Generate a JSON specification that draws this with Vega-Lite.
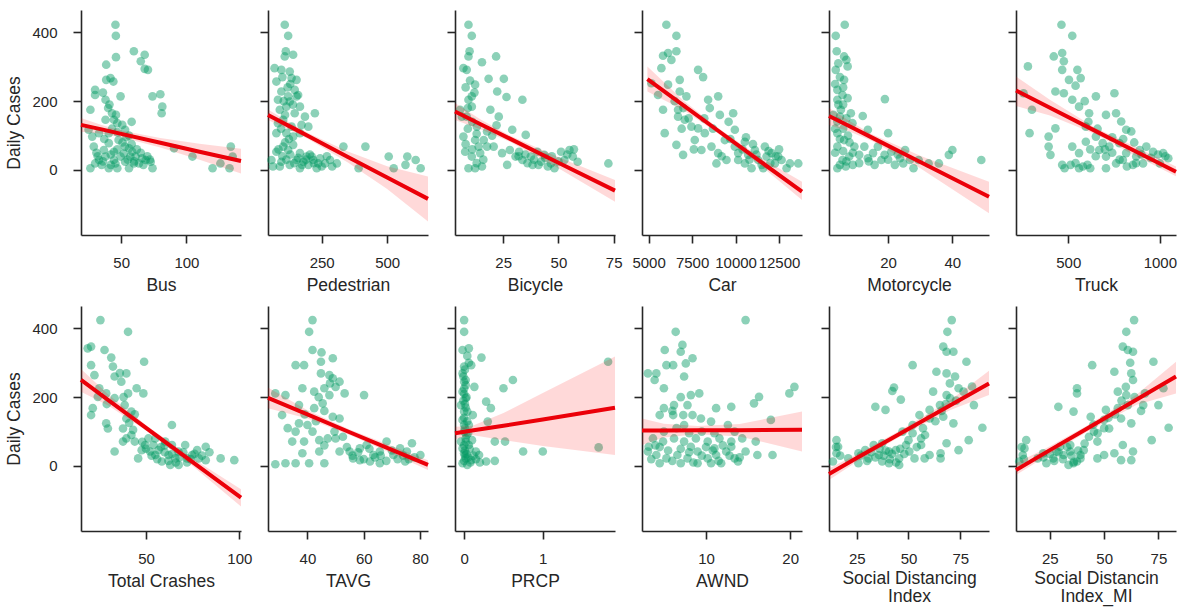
{
"$schema":"https://vega.github.io/schema/vega-lite/v6.json",
"padding":{"left":5,"top":10,"right":5,"bottom":2},
"background":"white",
"datasets":{
"d0":[{"x":45.6,"y":422},{"x":45.9,"y":390},{"x":46,"y":328},{"x":59.7,"y":345},{"x":68,"y":335},{"x":65,"y":316},{"x":68,"y":294},{"x":70.5,"y":291},{"x":38.5,"y":306},{"x":41.8,"y":267},{"x":38.5,"y":262},{"x":44,"y":257},{"x":30,"y":233},{"x":30,"y":218},{"x":80,"y":220},{"x":74,"y":214},{"x":49.5,"y":214},{"x":81.5,"y":184},{"x":81,"y":165},{"x":26.4,"y":175},{"x":38,"y":204},{"x":40,"y":180},{"x":43,"y":165},{"x":38,"y":146},{"x":44.4,"y":146},{"x":47,"y":136},{"x":50.8,"y":131},{"x":53,"y":117},{"x":25,"y":117},{"x":40.5,"y":107},{"x":33,"y":107},{"x":27.8,"y":97},{"x":40.5,"y":78},{"x":48,"y":87},{"x":52.8,"y":68},{"x":56,"y":63},{"x":29,"y":68},{"x":36.7,"y":58},{"x":44.4,"y":53},{"x":58.5,"y":53},{"x":90.5,"y":63},{"x":104.6,"y":39},{"x":134,"y":68},{"x":135.4,"y":39},{"x":133,"y":5},{"x":120,"y":5},{"x":126,"y":19},{"x":33,"y":29},{"x":30,"y":19},{"x":35,"y":15},{"x":40.5,"y":5},{"x":45.6,"y":19},{"x":49.5,"y":39},{"x":53,"y":24},{"x":57,"y":39},{"x":56,"y":5},{"x":61,"y":39},{"x":63.6,"y":19},{"x":66,"y":34},{"x":68.7,"y":29},{"x":72.6,"y":24},{"x":74,"y":5},{"x":59.7,"y":19},{"x":44.4,"y":29},{"x":38,"y":39},{"x":26.4,"y":5},{"x":47,"y":5},{"x":32,"y":40},{"x":36,"y":25},{"x":42,"y":45},{"x":47,"y":60},{"x":51,"y":80},{"x":54,"y":95},{"x":58,"y":75},{"x":62,"y":60},{"x":65,"y":50},{"x":70,"y":40},{"x":72,"y":30},{"x":52,"y":48},{"x":55,"y":30},{"x":60,"y":25},{"x":67,"y":15},{"x":42,"y":15},{"x":37,"y":90},{"x":43,"y":120},{"x":46,"y":160},{"x":41,"y":190},{"x":36,"y":225},{"x":47,"y":110},{"x":56,"y":100},{"x":58,"y":140},{"x":31,"y":50}],
"d1":[{"x":109,"y":422},{"x":122,"y":390},{"x":113,"y":345},{"x":141,"y":335},{"x":109,"y":330},{"x":96,"y":291},{"x":128,"y":286},{"x":70,"y":296},{"x":77,"y":257},{"x":135,"y":267},{"x":154,"y":262},{"x":147,"y":233},{"x":96,"y":228},{"x":122,"y":214},{"x":154,"y":214},{"x":83,"y":204},{"x":128,"y":199},{"x":160,"y":218},{"x":90,"y":175},{"x":115,"y":184},{"x":147,"y":165},{"x":186,"y":155},{"x":224,"y":165},{"x":167,"y":184},{"x":83,"y":136},{"x":103,"y":146},{"x":135,"y":126},{"x":173,"y":131},{"x":199,"y":126},{"x":77,"y":107},{"x":115,"y":107},{"x":141,"y":97},{"x":167,"y":107},{"x":77,"y":53},{"x":103,"y":68},{"x":122,"y":58},{"x":141,"y":73},{"x":167,"y":49},{"x":192,"y":39},{"x":218,"y":29},{"x":244,"y":34},{"x":263,"y":19},{"x":282,"y":29},{"x":308,"y":19},{"x":333,"y":68},{"x":417,"y":68},{"x":391,"y":5},{"x":506,"y":39},{"x":525,"y":5},{"x":570,"y":15},{"x":609,"y":29},{"x":628,"y":5},{"x":577,"y":39},{"x":90,"y":10},{"x":128,"y":15},{"x":167,"y":5},{"x":199,"y":15},{"x":231,"y":5},{"x":180,"y":24},{"x":212,"y":39},{"x":237,"y":19},{"x":64,"y":10},{"x":58,"y":29},{"x":96,"y":24},{"x":154,"y":29},{"x":100,"y":40},{"x":115,"y":30},{"x":130,"y":45},{"x":145,"y":20},{"x":160,"y":35},{"x":175,"y":15},{"x":190,"y":30},{"x":205,"y":45},{"x":220,"y":20},{"x":250,"y":10},{"x":110,"y":80},{"x":125,"y":90},{"x":95,"y":120},{"x":110,"y":160},{"x":120,"y":240},{"x":100,"y":270},{"x":130,"y":250},{"x":85,"y":60},{"x":270,"y":40},{"x":290,"y":10},{"x":140,"y":190},{"x":105,"y":200}],
"d2":[{"x":9.3,"y":422},{"x":10.8,"y":390},{"x":9.8,"y":345},{"x":9.3,"y":330},{"x":7,"y":296},{"x":8.5,"y":291},{"x":15.4,"y":313},{"x":21.8,"y":330},{"x":18.4,"y":265},{"x":25.3,"y":265},{"x":22.3,"y":228},{"x":26.5,"y":212},{"x":33.7,"y":204},{"x":12.3,"y":248},{"x":10.8,"y":214},{"x":9.3,"y":204},{"x":10.8,"y":184},{"x":6.3,"y":155},{"x":8.5,"y":155},{"x":19.2,"y":175},{"x":23,"y":155},{"x":13.1,"y":126},{"x":17.7,"y":112},{"x":29.1,"y":117},{"x":35.2,"y":102},{"x":12.3,"y":87},{"x":13.9,"y":68},{"x":7.8,"y":53},{"x":14.6,"y":49},{"x":20.7,"y":68},{"x":24.5,"y":49},{"x":26.8,"y":15},{"x":9.3,"y":5},{"x":12.3,"y":5},{"x":15.4,"y":10},{"x":30.6,"y":39},{"x":33.7,"y":29},{"x":37.5,"y":39},{"x":40.5,"y":53},{"x":43.6,"y":44},{"x":46.6,"y":19},{"x":48.2,"y":5},{"x":42.1,"y":24},{"x":45.2,"y":10},{"x":51.2,"y":53},{"x":55,"y":58},{"x":56.5,"y":39},{"x":58.7,"y":24},{"x":52.7,"y":29},{"x":72.6,"y":19},{"x":16.2,"y":87},{"x":10.8,"y":39},{"x":7,"y":97},{"x":5.5,"y":175},{"x":17.7,"y":68},{"x":32.2,"y":53},{"x":38.3,"y":15},{"x":8,"y":240},{"x":10,"y":260},{"x":12,"y":225},{"x":9,"y":180},{"x":11,"y":140},{"x":13,"y":105},{"x":9,"y":120},{"x":8,"y":75},{"x":11,"y":60},{"x":13,"y":20},{"x":16,"y":30},{"x":35,"y":45},{"x":39,"y":30},{"x":41,"y":15},{"x":44,"y":35},{"x":47,"y":40},{"x":50,"y":25},{"x":54,"y":45},{"x":57,"y":60},{"x":36,"y":20},{"x":32,"y":40},{"x":28,"y":58},{"x":20,"y":100},{"x":22,"y":130}],
"d3":[{"x":6022,"y":422},{"x":6598,"y":390},{"x":5830,"y":332},{"x":6118,"y":340},{"x":6598,"y":345},{"x":5734,"y":296},{"x":6310,"y":320},{"x":5158,"y":252},{"x":5542,"y":218},{"x":6118,"y":248},{"x":6790,"y":262},{"x":7846,"y":291},{"x":8134,"y":270},{"x":6790,"y":228},{"x":7174,"y":214},{"x":5830,"y":175},{"x":6694,"y":175},{"x":6694,"y":155},{"x":7078,"y":146},{"x":7462,"y":126},{"x":8422,"y":204},{"x":9000,"y":214},{"x":8518,"y":180},{"x":9096,"y":160},{"x":9862,"y":165},{"x":5926,"y":107},{"x":6598,"y":73},{"x":6982,"y":44},{"x":7846,"y":121},{"x":8230,"y":107},{"x":8038,"y":58},{"x":8614,"y":68},{"x":8998,"y":49},{"x":8900,"y":19},{"x":9478,"y":29},{"x":9958,"y":117},{"x":9958,"y":68},{"x":10150,"y":49},{"x":10534,"y":82},{"x":10726,"y":44},{"x":11110,"y":58},{"x":11302,"y":29},{"x":11686,"y":68},{"x":11782,"y":39},{"x":12070,"y":49},{"x":12262,"y":19},{"x":12646,"y":29},{"x":13126,"y":19},{"x":13606,"y":19},{"x":10918,"y":5},{"x":11590,"y":5},{"x":10534,"y":19},{"x":9382,"y":87},{"x":7654,"y":87},{"x":10150,"y":29},{"x":12454,"y":39},{"x":12934,"y":5},{"x":10400,"y":60},{"x":10800,"y":30},{"x":11200,"y":45},{"x":11500,"y":15},{"x":11900,"y":55},{"x":12300,"y":40},{"x":12500,"y":60},{"x":11000,"y":75},{"x":10600,"y":95},{"x":9700,"y":90},{"x":9200,"y":40},{"x":8700,"y":120},{"x":8200,"y":150},{"x":7300,"y":150},{"x":7000,"y":180},{"x":6500,"y":200},{"x":6900,"y":120},{"x":7600,"y":60},{"x":9600,"y":140},{"x":12000,"y":20}],
"d4":[{"x":6.5,"y":422},{"x":3.7,"y":390},{"x":4,"y":345},{"x":6.3,"y":330},{"x":7.4,"y":301},{"x":3.7,"y":291},{"x":6.3,"y":262},{"x":4.2,"y":233},{"x":5.8,"y":218},{"x":7.4,"y":209},{"x":4.2,"y":204},{"x":19,"y":206},{"x":12.1,"y":157},{"x":5.3,"y":175},{"x":8.4,"y":165},{"x":4.2,"y":141},{"x":8.9,"y":136},{"x":13.7,"y":117},{"x":20,"y":107},{"x":4.2,"y":107},{"x":6.3,"y":87},{"x":9.5,"y":68},{"x":4.2,"y":68},{"x":16.8,"y":68},{"x":18.9,"y":44},{"x":21,"y":53},{"x":25.3,"y":58},{"x":23.7,"y":34},{"x":26.8,"y":29},{"x":29.5,"y":29},{"x":32.6,"y":19},{"x":35.8,"y":19},{"x":38.9,"y":44},{"x":40,"y":58},{"x":49,"y":29},{"x":4.2,"y":5},{"x":6.8,"y":10},{"x":13.7,"y":34},{"x":15.8,"y":15},{"x":17.9,"y":29},{"x":22.1,"y":15},{"x":27.9,"y":5},{"x":11,"y":44},{"x":12.6,"y":68},{"x":7.9,"y":39},{"x":5.8,"y":29},{"x":15.3,"y":49},{"x":24.7,"y":19},{"x":3.5,"y":250},{"x":5,"y":270},{"x":6,"y":240},{"x":4.5,"y":190},{"x":6,"y":190},{"x":5,"y":155},{"x":7,"y":150},{"x":3.5,"y":120},{"x":6,"y":120},{"x":7.5,"y":100},{"x":5,"y":90},{"x":3.5,"y":50},{"x":6,"y":55},{"x":8,"y":80},{"x":5,"y":15},{"x":7,"y":25},{"x":9,"y":15},{"x":11,"y":20},{"x":14,"y":25},{"x":20,"y":30},{"x":23,"y":45},{"x":7,"y":320},{"x":4.5,"y":310},{"x":9,"y":50},{"x":3,"y":160}],
"d5":[{"x":463,"y":422},{"x":522,"y":390},{"x":421,"y":330},{"x":467,"y":340},{"x":476,"y":316},{"x":467,"y":291},{"x":550,"y":291},{"x":568,"y":267},{"x":504,"y":262},{"x":280,"y":301},{"x":256,"y":223},{"x":302,"y":175},{"x":289,"y":107},{"x":430,"y":228},{"x":476,"y":223},{"x":522,"y":204},{"x":651,"y":214},{"x":752,"y":223},{"x":430,"y":121},{"x":393,"y":97},{"x":393,"y":68},{"x":403,"y":44},{"x":559,"y":184},{"x":614,"y":165},{"x":706,"y":160},{"x":761,"y":165},{"x":789,"y":141},{"x":816,"y":117},{"x":844,"y":112},{"x":596,"y":126},{"x":651,"y":97},{"x":688,"y":78},{"x":522,"y":68},{"x":559,"y":49},{"x":596,"y":82},{"x":467,"y":15},{"x":513,"y":15},{"x":559,"y":5},{"x":605,"y":15},{"x":669,"y":58},{"x":724,"y":68},{"x":706,"y":39},{"x":761,"y":19},{"x":798,"y":29},{"x":853,"y":15},{"x":871,"y":39},{"x":890,"y":58},{"x":926,"y":68},{"x":963,"y":53},{"x":1018,"y":49},{"x":1046,"y":34},{"x":1000,"y":19},{"x":779,"y":78},{"x":816,"y":49},{"x":706,"y":5},{"x":908,"y":19},{"x":480,"y":5},{"x":540,"y":20},{"x":580,"y":10},{"x":620,"y":5},{"x":650,"y":40},{"x":700,"y":60},{"x":740,"y":50},{"x":780,"y":30},{"x":820,"y":10},{"x":870,"y":20},{"x":900,"y":45},{"x":950,"y":35},{"x":990,"y":45},{"x":1030,"y":40},{"x":740,"y":95},{"x":800,"y":90},{"x":860,"y":80},{"x":610,"y":140},{"x":660,"y":120},{"x":540,"y":245},{"x":590,"y":200},{"x":620,"y":60}],
"d6":[{"x":25.6,"y":424},{"x":40.4,"y":390},{"x":18.8,"y":342},{"x":20.6,"y":347},{"x":27.8,"y":337},{"x":31.4,"y":315},{"x":20.6,"y":293},{"x":32.3,"y":289},{"x":22.4,"y":264},{"x":33.2,"y":260},{"x":39.5,"y":269},{"x":36.8,"y":245},{"x":49,"y":303},{"x":25,"y":226},{"x":28.7,"y":211},{"x":40.4,"y":211},{"x":45,"y":226},{"x":48.6,"y":211},{"x":24.2,"y":201},{"x":33.2,"y":197},{"x":21.5,"y":168},{"x":20.6,"y":148},{"x":38.6,"y":177},{"x":42.2,"y":158},{"x":28.7,"y":124},{"x":29.6,"y":109},{"x":39.5,"y":138},{"x":37.7,"y":109},{"x":43.1,"y":105},{"x":39.5,"y":80},{"x":37.7,"y":71},{"x":44,"y":71},{"x":33.2,"y":42},{"x":45.8,"y":22},{"x":49.5,"y":61},{"x":51.3,"y":80},{"x":54,"y":61},{"x":56.7,"y":46},{"x":60.3,"y":71},{"x":63.9,"y":119},{"x":63.9,"y":61},{"x":55,"y":32},{"x":58.5,"y":13},{"x":62.1,"y":32},{"x":65.7,"y":22},{"x":67.4,"y":42},{"x":71,"y":61},{"x":72,"y":22},{"x":74.7,"y":32},{"x":78.3,"y":22},{"x":82,"y":56},{"x":82,"y":17},{"x":90,"y":22},{"x":97.3,"y":17},{"x":67.5,"y":3},{"x":63,"y":3},{"x":52.2,"y":42},{"x":77.4,"y":46},{"x":47.7,"y":46},{"x":42.2,"y":90},{"x":50,"y":50},{"x":53,"y":30},{"x":56,"y":20},{"x":58,"y":55},{"x":60,"y":40},{"x":62,"y":15},{"x":64,"y":35},{"x":66,"y":10},{"x":68,"y":25},{"x":70,"y":40},{"x":72,"y":10},{"x":74,"y":20},{"x":76,"y":35},{"x":80,"y":30},{"x":84,"y":40},{"x":48,"y":70},{"x":55,"y":80},{"x":60,"y":60},{"x":41,"y":125},{"x":44,"y":150},{"x":38,"y":200},{"x":36,"y":270},{"x":29,"y":180}],
"d7":[{"x":41.8,"y":424},{"x":40.6,"y":390},{"x":41.8,"y":337},{"x":44.8,"y":303},{"x":49,"y":313},{"x":35.8,"y":293},{"x":38.8,"y":293},{"x":44.8,"y":269},{"x":47.8,"y":264},{"x":49,"y":255},{"x":51.4,"y":245},{"x":53.2,"y":211},{"x":60.1,"y":206},{"x":38.2,"y":226},{"x":42.4,"y":216},{"x":46,"y":226},{"x":47.8,"y":206},{"x":32.2,"y":206},{"x":28.6,"y":211},{"x":37,"y":177},{"x":42.4,"y":168},{"x":45.4,"y":182},{"x":49,"y":143},{"x":51.4,"y":138},{"x":31,"y":148},{"x":37,"y":124},{"x":40,"y":119},{"x":41.8,"y":100},{"x":35.8,"y":100},{"x":34.6,"y":71},{"x":38.8,"y":71},{"x":44.2,"y":75},{"x":47.2,"y":80},{"x":49.6,"y":100},{"x":52.6,"y":85},{"x":38.2,"y":37},{"x":44.2,"y":42},{"x":51.4,"y":42},{"x":55,"y":42},{"x":58.6,"y":51},{"x":61,"y":61},{"x":63.4,"y":32},{"x":65.7,"y":42},{"x":68.1,"y":71},{"x":70.5,"y":32},{"x":72.9,"y":51},{"x":28.6,"y":5},{"x":32.2,"y":8},{"x":35.8,"y":8},{"x":40.6,"y":8},{"x":46,"y":8},{"x":58.6,"y":17},{"x":65.7,"y":8},{"x":74.7,"y":13},{"x":77.1,"y":66},{"x":80.1,"y":32},{"x":75.3,"y":42},{"x":56.2,"y":22},{"x":62.2,"y":13},{"x":56,"y":30},{"x":58,"y":40},{"x":60,"y":20},{"x":62,"y":50},{"x":64,"y":25},{"x":66,"y":30},{"x":68,"y":15},{"x":70,"y":45},{"x":72,"y":20},{"x":74,"y":30},{"x":76,"y":20},{"x":78,"y":25},{"x":54,"y":55},{"x":50,"y":80},{"x":46,"y":60},{"x":43,"y":130},{"x":46,"y":160},{"x":48,"y":240},{"x":50,"y":230},{"x":44,"y":200},{"x":39,"y":150},{"x":33,"y":110},{"x":45,"y":330}],
"d8":[{"x":0,"y":424},{"x":0,"y":390},{"x":-0.02,"y":337},{"x":0.06,"y":342},{"x":0.22,"y":315},{"x":0,"y":289},{"x":0.09,"y":293},{"x":-0.02,"y":269},{"x":0.62,"y":250},{"x":0.5,"y":226},{"x":0.13,"y":230},{"x":0,"y":245},{"x":-0.02,"y":216},{"x":0.02,"y":197},{"x":-0.04,"y":177},{"x":0.04,"y":158},{"x":0.28,"y":187},{"x":0.34,"y":168},{"x":-0.02,"y":134},{"x":0.06,"y":119},{"x":0.3,"y":129},{"x":0.39,"y":71},{"x":0.52,"y":71},{"x":0.75,"y":42},{"x":1.0,"y":42},{"x":1.83,"y":303},{"x":1.71,"y":54},{"x":0,"y":100},{"x":-0.04,"y":71},{"x":0.06,"y":61},{"x":0,"y":37},{"x":0.15,"y":42},{"x":0.28,"y":13},{"x":0.39,"y":15},{"x":-0.02,"y":8},{"x":0.09,"y":17},{"x":0.19,"y":32},{"x":0.02,"y":22},{"x":-0.02,"y":51},{"x":0.02,"y":80},{"x":0,"y":158},{"x":0.02,"y":235},{"x":0.11,"y":148},{"x":0.04,"y":3},{"x":0,"y":60},{"x":0.01,"y":30},{"x":0,"y":120},{"x":0.01,"y":180},{"x":0,"y":210},{"x":0.03,"y":90},{"x":0.01,"y":45},{"x":0.01,"y":280},{"x":-0.01,"y":260},{"x":0.02,"y":250},{"x":0,"y":225},{"x":0.03,"y":200},{"x":-0.01,"y":190},{"x":0.02,"y":170},{"x":0,"y":140},{"x":0.04,"y":130},{"x":0.01,"y":110},{"x":0.05,"y":95},{"x":0.02,"y":70},{"x":0.07,"y":50},{"x":0.03,"y":35},{"x":0.05,"y":25},{"x":0.08,"y":10},{"x":0.12,"y":30},{"x":0.1,"y":75},{"x":0.15,"y":20},{"x":0.2,"y":10},{"x":0,"y":15},{"x":0.06,"y":300},{"x":0.04,"y":320}],
"d9":[{"x":14.7,"y":424},{"x":6.4,"y":390},{"x":7.2,"y":352},{"x":5.1,"y":337},{"x":7,"y":332},{"x":8.4,"y":313},{"x":5.3,"y":293},{"x":6.1,"y":293},{"x":7.6,"y":298},{"x":3.1,"y":269},{"x":4.1,"y":269},{"x":3.9,"y":250},{"x":7.4,"y":260},{"x":5,"y":226},{"x":19.9,"y":211},{"x":20.5,"y":230},{"x":16.3,"y":201},{"x":15.7,"y":182},{"x":8.2,"y":206},{"x":9.2,"y":211},{"x":6.2,"y":177},{"x":5,"y":168},{"x":7.8,"y":177},{"x":11.2,"y":168},{"x":13,"y":172},{"x":4.5,"y":148},{"x":6.1,"y":148},{"x":7.3,"y":148},{"x":8.4,"y":148},{"x":9.4,"y":138},{"x":10.6,"y":129},{"x":7.4,"y":119},{"x":12.6,"y":119},{"x":13.4,"y":100},{"x":17.7,"y":134},{"x":15.9,"y":71},{"x":3.7,"y":80},{"x":4.9,"y":71},{"x":6.2,"y":80},{"x":7.4,"y":71},{"x":8.8,"y":80},{"x":10.2,"y":71},{"x":11.6,"y":80},{"x":13,"y":71},{"x":14.3,"y":80},{"x":3.1,"y":42},{"x":4.1,"y":32},{"x":5.3,"y":22},{"x":6.6,"y":32},{"x":7.8,"y":22},{"x":9,"y":42},{"x":10.2,"y":22},{"x":11.2,"y":32},{"x":12.4,"y":42},{"x":13.4,"y":22},{"x":14.7,"y":42},{"x":16.1,"y":32},{"x":17.9,"y":32},{"x":4.5,"y":8},{"x":7,"y":8},{"x":9,"y":8},{"x":10.6,"y":8},{"x":11.8,"y":8},{"x":13.8,"y":13},{"x":3.2,"y":56},{"x":8.2,"y":56},{"x":11,"y":51},{"x":13,"y":56},{"x":3.5,"y":20},{"x":4.5,"y":55},{"x":5.5,"y":45},{"x":6,"y":15},{"x":7,"y":50},{"x":8,"y":40},{"x":8.5,"y":10},{"x":9.5,"y":30},{"x":10,"y":55},{"x":10.8,"y":45},{"x":11.5,"y":15},{"x":12,"y":60},{"x":12.8,"y":30},{"x":14,"y":25},{"x":5,"y":100},{"x":6.5,"y":110},{"x":8,"y":95},{"x":9.5,"y":100},{"x":11,"y":95},{"x":6,"y":160},{"x":7,"y":200},{"x":4,"y":60}],
"d10":[{"x":70.9,"y":424},{"x":68.8,"y":390},{"x":66.8,"y":347},{"x":68.4,"y":332},{"x":71.7,"y":332},{"x":78,"y":303},{"x":52,"y":293},{"x":63.5,"y":274},{"x":68.4,"y":269},{"x":72.5,"y":260},{"x":43,"y":228},{"x":42.2,"y":218},{"x":46.3,"y":193},{"x":61.9,"y":216},{"x":68.4,"y":206},{"x":74.2,"y":226},{"x":76.6,"y":216},{"x":80.7,"y":231},{"x":34,"y":172},{"x":38.9,"y":163},{"x":60.2,"y":163},{"x":65.2,"y":177},{"x":70.1,"y":197},{"x":81.6,"y":177},{"x":55.3,"y":148},{"x":60.2,"y":138},{"x":66.8,"y":143},{"x":71.7,"y":124},{"x":85.7,"y":111},{"x":52,"y":119},{"x":47.1,"y":100},{"x":56.1,"y":80},{"x":56.1,"y":61},{"x":68.4,"y":66},{"x":79.1,"y":75},{"x":74.2,"y":46},{"x":15.2,"y":75},{"x":16,"y":56},{"x":15.2,"y":37},{"x":13.5,"y":13},{"x":25.8,"y":37},{"x":25.8,"y":8},{"x":30.7,"y":22},{"x":35.7,"y":32},{"x":40.6,"y":42},{"x":40.6,"y":8},{"x":45.5,"y":22},{"x":43.9,"y":46},{"x":48.8,"y":61},{"x":52.9,"y":22},{"x":57.8,"y":22},{"x":65.5,"y":22},{"x":65.5,"y":37},{"x":33.2,"y":61},{"x":37.3,"y":66},{"x":29.1,"y":46},{"x":50.4,"y":42},{"x":60.2,"y":32},{"x":37.3,"y":13},{"x":45.5,"y":3},{"x":20.9,"y":22},{"x":27,"y":30},{"x":30,"y":15},{"x":32,"y":40},{"x":34,"y":25},{"x":36,"y":50},{"x":38,"y":30},{"x":39,"y":45},{"x":41,"y":20},{"x":42,"y":35},{"x":44,"y":10},{"x":46,"y":50},{"x":48,"y":35},{"x":50,"y":75},{"x":52,"y":95},{"x":54,"y":55},{"x":57,"y":110},{"x":58,"y":90},{"x":63,"y":130},{"x":66,"y":160},{"x":68,"y":180},{"x":70,"y":240},{"x":73,"y":190},{"x":15,"y":55},{"x":17,"y":30}],
"d11":[{"x":63.8,"y":424},{"x":60.2,"y":390},{"x":58.6,"y":347},{"x":60.9,"y":337},{"x":63.3,"y":332},{"x":72.7,"y":303},{"x":44.5,"y":293},{"x":54.7,"y":274},{"x":62.5,"y":269},{"x":63.3,"y":250},{"x":37.5,"y":226},{"x":37.5,"y":211},{"x":35.9,"y":158},{"x":28.9,"y":172},{"x":56.3,"y":216},{"x":68.8,"y":211},{"x":77.3,"y":226},{"x":60.2,"y":206},{"x":50.8,"y":163},{"x":56.3,"y":168},{"x":60.9,"y":177},{"x":68,"y":177},{"x":75,"y":177},{"x":43.8,"y":143},{"x":50,"y":134},{"x":57.8,"y":138},{"x":62.5,"y":124},{"x":79.7,"y":111},{"x":45.3,"y":100},{"x":46.9,"y":71},{"x":52.3,"y":109},{"x":58.6,"y":61},{"x":63.3,"y":42},{"x":71.9,"y":75},{"x":62.5,"y":17},{"x":54.7,"y":37},{"x":57.8,"y":17},{"x":14.1,"y":75},{"x":13.3,"y":51},{"x":12.5,"y":32},{"x":10.9,"y":13},{"x":21.9,"y":37},{"x":23.4,"y":8},{"x":26.6,"y":22},{"x":31.3,"y":32},{"x":34.4,"y":42},{"x":35.9,"y":8},{"x":39.1,"y":22},{"x":40.6,"y":46},{"x":34.4,"y":61},{"x":29.7,"y":56},{"x":46.9,"y":22},{"x":50,"y":32},{"x":37.5,"y":13},{"x":19.4,"y":22},{"x":28.1,"y":42},{"x":39.1,"y":32},{"x":33.6,"y":3},{"x":22,"y":25},{"x":25,"y":35},{"x":27,"y":15},{"x":29,"y":40},{"x":31,"y":20},{"x":33,"y":55},{"x":35,"y":30},{"x":36,"y":12},{"x":38,"y":45},{"x":41,"y":65},{"x":43,"y":85},{"x":45,"y":120},{"x":47,"y":95},{"x":50,"y":110},{"x":52,"y":140},{"x":55,"y":150},{"x":58,"y":190},{"x":60,"y":230},{"x":62,"y":300},{"x":64,"y":200},{"x":67,"y":160},{"x":12,"y":55},{"x":13,"y":20}],
"f0":[{"x":19.2,"fit":131,"lo":111,"hi":151},{"x":35,"fit":118,"lo":105,"hi":131},{"x":50,"fit":105,"lo":95,"hi":115},{"x":80,"fit":79,"lo":65,"hi":93},{"x":110,"fit":53,"lo":30,"hi":76},{"x":141.8,"fit":26,"lo":-10,"hi":62}],
"f1":[{"x":45,"fit":160,"lo":145,"hi":176},{"x":150,"fit":118,"lo":108,"hi":128},{"x":200,"fit":98,"lo":89,"hi":107},{"x":350,"fit":38,"lo":22,"hi":54},{"x":500,"fit":-22,"lo":-55,"hi":11},{"x":656,"fit":-84,"lo":-150,"hi":-19}],
"f2":[{"x":3.2,"fit":170,"lo":145,"hi":195},{"x":15,"fit":132,"lo":118,"hi":146},{"x":28,"fit":91,"lo":82,"hi":100},{"x":50,"fit":21,"lo":5,"hi":37},{"x":75.6,"fit":-60,"lo":-92,"hi":-29}],
"f3":[{"x":4930,"fit":264,"lo":228,"hi":301},{"x":7000,"fit":188,"lo":174,"hi":202},{"x":9000,"fit":114,"lo":106,"hi":122},{"x":11500,"fit":22,"lo":10,"hi":34},{"x":13820,"fit":-63,"lo":-87,"hi":-34}],
"f4":[{"x":1.6,"fit":157,"lo":131,"hi":180},{"x":8,"fit":127,"lo":112,"hi":142},{"x":15,"fit":94,"lo":84,"hi":104},{"x":30,"fit":23,"lo":5,"hi":41},{"x":51.4,"fit":-78,"lo":-126,"hi":-34}],
"f5":[{"x":215,"fit":231,"lo":186,"hi":272},{"x":400,"fit":181,"lo":158,"hi":204},{"x":650,"fit":113,"lo":104,"hi":122},{"x":850,"fit":59,"lo":46,"hi":72},{"x":1088,"fit":-5,"lo":-18,"hi":10}],
"f6":[{"x":15.2,"fit":250,"lo":216,"hi":282},{"x":30,"fit":191,"lo":175,"hi":207},{"x":50,"fit":111,"lo":103,"hi":119},{"x":75,"fit":11,"lo":0,"hi":22},{"x":100.9,"fit":-92,"lo":-118,"hi":-68}],
"f7":[{"x":26,"fit":198,"lo":168,"hi":228},{"x":40,"fit":150,"lo":138,"hi":162},{"x":55,"fit":98,"lo":90,"hi":106},{"x":70,"fit":47,"lo":36,"hi":58},{"x":82.8,"fit":3,"lo":-12,"hi":17}],
"f8":[{"x":-0.116,"fit":95,"lo":78,"hi":114},{"x":0.1,"fit":103,"lo":90,"hi":116},{"x":0.5,"fit":117,"lo":75,"hi":154},{"x":1.0,"fit":135,"lo":58,"hi":212},{"x":1.918,"fit":169,"lo":32,"hi":318}],
"f9":[{"x":2.4,"fit":103,"lo":61,"hi":138},{"x":5,"fit":103,"lo":83,"hi":123},{"x":9,"fit":104,"lo":92,"hi":116},{"x":14,"fit":104,"lo":86,"hi":122},{"x":21.4,"fit":105,"lo":42,"hi":158}],
"f10":[{"x":11.6,"fit":-23,"lo":-41,"hi":-7},{"x":25,"fit":23,"lo":12,"hi":34},{"x":45,"fit":91,"lo":82,"hi":100},{"x":70,"fit":176,"lo":162,"hi":190},{"x":88.9,"fit":240,"lo":206,"hi":277}],
"f11":[{"x":9.4,"fit":-12,"lo":-26,"hi":8},{"x":25,"fit":46,"lo":35,"hi":57},{"x":42,"fit":108,"lo":99,"hi":117},{"x":65,"fit":193,"lo":178,"hi":208},{"x":83.1,"fit":260,"lo":211,"hi":303}]
},
"vconcat":[
{"hconcat":[
{"width":160,"height":225,"layer":[
{"data":{"name":"d0"},"mark":{"type":"circle","size":75,"color":"#009a62","opacity":0.45},"encoding":{"x":{"field":"x","type":"quantitative","scale":{"domain":[19.2,141.8],"nice":false,"zero":false},"axis":{"values":[50,100],"format":"d","title":"Bus"}},"y":{"field":"y","type":"quantitative","scale":{"domain":[-189,465],"nice":false,"zero":false},"axis":{"values":[0,200,400],"title":"Daily Cases"}}}},
{"data":{"name":"f0"},"mark":{"type":"line","color":"#e8000b","strokeWidth":4},"encoding":{"x":{"field":"x","type":"quantitative"},"y":{"field":"fit","type":"quantitative"}}},
{"data":{"name":"f0"},"mark":{"type":"area","color":"#ff0000","opacity":0.15},"encoding":{"x":{"field":"x","type":"quantitative"},"y":{"field":"lo","type":"quantitative"},"y2":{"field":"hi"}}}]},
{"width":160,"height":225,"layer":[
{"data":{"name":"d1"},"mark":{"type":"circle","size":75,"color":"#009a62","opacity":0.45},"encoding":{"x":{"field":"x","type":"quantitative","scale":{"domain":[45,656],"nice":false,"zero":false},"axis":{"values":[250,500],"format":"d","title":"Pedestrian"}},"y":{"field":"y","type":"quantitative","scale":{"domain":[-189,465],"nice":false,"zero":false},"axis":{"values":[0,200,400],"labels":false,"title":null}}}},
{"data":{"name":"f1"},"mark":{"type":"line","color":"#e8000b","strokeWidth":4},"encoding":{"x":{"field":"x","type":"quantitative"},"y":{"field":"fit","type":"quantitative"}}},
{"data":{"name":"f1"},"mark":{"type":"area","color":"#ff0000","opacity":0.15},"encoding":{"x":{"field":"x","type":"quantitative"},"y":{"field":"lo","type":"quantitative"},"y2":{"field":"hi"}}}]},
{"width":160,"height":225,"layer":[
{"data":{"name":"d2"},"mark":{"type":"circle","size":75,"color":"#009a62","opacity":0.45},"encoding":{"x":{"field":"x","type":"quantitative","scale":{"domain":[3.2,75.6],"nice":false,"zero":false},"axis":{"values":[25,50,75],"format":"d","title":"Bicycle"}},"y":{"field":"y","type":"quantitative","scale":{"domain":[-189,465],"nice":false,"zero":false},"axis":{"values":[0,200,400],"labels":false,"title":null}}}},
{"data":{"name":"f2"},"mark":{"type":"line","color":"#e8000b","strokeWidth":4},"encoding":{"x":{"field":"x","type":"quantitative"},"y":{"field":"fit","type":"quantitative"}}},
{"data":{"name":"f2"},"mark":{"type":"area","color":"#ff0000","opacity":0.15},"encoding":{"x":{"field":"x","type":"quantitative"},"y":{"field":"lo","type":"quantitative"},"y2":{"field":"hi"}}}]},
{"width":160,"height":225,"layer":[
{"data":{"name":"d3"},"mark":{"type":"circle","size":75,"color":"#009a62","opacity":0.45},"encoding":{"x":{"field":"x","type":"quantitative","scale":{"domain":[4620,13820],"nice":false,"zero":false},"axis":{"values":[5000,7500,10000,12500],"format":"d","title":"Car"}},"y":{"field":"y","type":"quantitative","scale":{"domain":[-189,465],"nice":false,"zero":false},"axis":{"values":[0,200,400],"labels":false,"title":null}}}},
{"data":{"name":"f3"},"mark":{"type":"line","color":"#e8000b","strokeWidth":4},"encoding":{"x":{"field":"x","type":"quantitative"},"y":{"field":"fit","type":"quantitative"}}},
{"data":{"name":"f3"},"mark":{"type":"area","color":"#ff0000","opacity":0.15},"encoding":{"x":{"field":"x","type":"quantitative"},"y":{"field":"lo","type":"quantitative"},"y2":{"field":"hi"}}}]},
{"width":160,"height":225,"layer":[
{"data":{"name":"d4"},"mark":{"type":"circle","size":75,"color":"#009a62","opacity":0.45},"encoding":{"x":{"field":"x","type":"quantitative","scale":{"domain":[1.6,51.4],"nice":false,"zero":false},"axis":{"values":[20,40],"format":"d","title":"Motorcycle"}},"y":{"field":"y","type":"quantitative","scale":{"domain":[-189,465],"nice":false,"zero":false},"axis":{"values":[0,200,400],"labels":false,"title":null}}}},
{"data":{"name":"f4"},"mark":{"type":"line","color":"#e8000b","strokeWidth":4},"encoding":{"x":{"field":"x","type":"quantitative"},"y":{"field":"fit","type":"quantitative"}}},
{"data":{"name":"f4"},"mark":{"type":"area","color":"#ff0000","opacity":0.15},"encoding":{"x":{"field":"x","type":"quantitative"},"y":{"field":"lo","type":"quantitative"},"y2":{"field":"hi"}}}]},
{"width":160,"height":225,"layer":[
{"data":{"name":"d5"},"mark":{"type":"circle","size":75,"color":"#009a62","opacity":0.45},"encoding":{"x":{"field":"x","type":"quantitative","scale":{"domain":[215,1088],"nice":false,"zero":false},"axis":{"values":[500,1000],"format":"d","title":"Truck"}},"y":{"field":"y","type":"quantitative","scale":{"domain":[-189,465],"nice":false,"zero":false},"axis":{"values":[0,200,400],"labels":false,"title":null}}}},
{"data":{"name":"f5"},"mark":{"type":"line","color":"#e8000b","strokeWidth":4},"encoding":{"x":{"field":"x","type":"quantitative"},"y":{"field":"fit","type":"quantitative"}}},
{"data":{"name":"f5"},"mark":{"type":"area","color":"#ff0000","opacity":0.15},"encoding":{"x":{"field":"x","type":"quantitative"},"y":{"field":"lo","type":"quantitative"},"y2":{"field":"hi"}}}]}
],"spacing":27,"bounds":"flush"},
{"hconcat":[
{"width":160,"height":225,"layer":[
{"data":{"name":"d6"},"mark":{"type":"circle","size":75,"color":"#009a62","opacity":0.45},"encoding":{"x":{"field":"x","type":"quantitative","scale":{"domain":[15.2,100.9],"nice":false,"zero":false},"axis":{"values":[50,100],"format":"d","title":"Total Crashes"}},"y":{"field":"y","type":"quantitative","scale":{"domain":[-189,465],"nice":false,"zero":false},"axis":{"values":[0,200,400],"title":"Daily Cases"}}}},
{"data":{"name":"f6"},"mark":{"type":"line","color":"#e8000b","strokeWidth":4},"encoding":{"x":{"field":"x","type":"quantitative"},"y":{"field":"fit","type":"quantitative"}}},
{"data":{"name":"f6"},"mark":{"type":"area","color":"#ff0000","opacity":0.15},"encoding":{"x":{"field":"x","type":"quantitative"},"y":{"field":"lo","type":"quantitative"},"y2":{"field":"hi"}}}]},
{"width":160,"height":225,"layer":[
{"data":{"name":"d7"},"mark":{"type":"circle","size":75,"color":"#009a62","opacity":0.45},"encoding":{"x":{"field":"x","type":"quantitative","scale":{"domain":[26,82.8],"nice":false,"zero":false},"axis":{"values":[40,60,80],"format":"d","title":"TAVG"}},"y":{"field":"y","type":"quantitative","scale":{"domain":[-189,465],"nice":false,"zero":false},"axis":{"values":[0,200,400],"labels":false,"title":null}}}},
{"data":{"name":"f7"},"mark":{"type":"line","color":"#e8000b","strokeWidth":4},"encoding":{"x":{"field":"x","type":"quantitative"},"y":{"field":"fit","type":"quantitative"}}},
{"data":{"name":"f7"},"mark":{"type":"area","color":"#ff0000","opacity":0.15},"encoding":{"x":{"field":"x","type":"quantitative"},"y":{"field":"lo","type":"quantitative"},"y2":{"field":"hi"}}}]},
{"width":160,"height":225,"layer":[
{"data":{"name":"d8"},"mark":{"type":"circle","size":75,"color":"#009a62","opacity":0.45},"encoding":{"x":{"field":"x","type":"quantitative","scale":{"domain":[-0.116,1.918],"nice":false,"zero":false},"axis":{"values":[0,1],"format":"d","title":"PRCP"}},"y":{"field":"y","type":"quantitative","scale":{"domain":[-189,465],"nice":false,"zero":false},"axis":{"values":[0,200,400],"labels":false,"title":null}}}},
{"data":{"name":"f8"},"mark":{"type":"line","color":"#e8000b","strokeWidth":4},"encoding":{"x":{"field":"x","type":"quantitative"},"y":{"field":"fit","type":"quantitative"}}},
{"data":{"name":"f8"},"mark":{"type":"area","color":"#ff0000","opacity":0.15},"encoding":{"x":{"field":"x","type":"quantitative"},"y":{"field":"lo","type":"quantitative"},"y2":{"field":"hi"}}}]},
{"width":160,"height":225,"layer":[
{"data":{"name":"d9"},"mark":{"type":"circle","size":75,"color":"#009a62","opacity":0.45},"encoding":{"x":{"field":"x","type":"quantitative","scale":{"domain":[2.4,21.4],"nice":false,"zero":false},"axis":{"values":[10,20],"format":"d","title":"AWND"}},"y":{"field":"y","type":"quantitative","scale":{"domain":[-189,465],"nice":false,"zero":false},"axis":{"values":[0,200,400],"labels":false,"title":null}}}},
{"data":{"name":"f9"},"mark":{"type":"line","color":"#e8000b","strokeWidth":4},"encoding":{"x":{"field":"x","type":"quantitative"},"y":{"field":"fit","type":"quantitative"}}},
{"data":{"name":"f9"},"mark":{"type":"area","color":"#ff0000","opacity":0.15},"encoding":{"x":{"field":"x","type":"quantitative"},"y":{"field":"lo","type":"quantitative"},"y2":{"field":"hi"}}}]},
{"width":160,"height":225,"layer":[
{"data":{"name":"d10"},"mark":{"type":"circle","size":75,"color":"#009a62","opacity":0.45},"encoding":{"x":{"field":"x","type":"quantitative","scale":{"domain":[11.6,88.9],"nice":false,"zero":false},"axis":{"values":[25,50,75],"format":"d","title":["Social Distancing","Index"],"titlePadding":3,"titleLineHeight":18}},"y":{"field":"y","type":"quantitative","scale":{"domain":[-189,465],"nice":false,"zero":false},"axis":{"values":[0,200,400],"labels":false,"title":null}}}},
{"data":{"name":"f10"},"mark":{"type":"line","color":"#e8000b","strokeWidth":4},"encoding":{"x":{"field":"x","type":"quantitative"},"y":{"field":"fit","type":"quantitative"}}},
{"data":{"name":"f10"},"mark":{"type":"area","color":"#ff0000","opacity":0.15},"encoding":{"x":{"field":"x","type":"quantitative"},"y":{"field":"lo","type":"quantitative"},"y2":{"field":"hi"}}}]},
{"width":160,"height":225,"layer":[
{"data":{"name":"d11"},"mark":{"type":"circle","size":75,"color":"#009a62","opacity":0.45},"encoding":{"x":{"field":"x","type":"quantitative","scale":{"domain":[9.4,83.1],"nice":false,"zero":false},"axis":{"values":[25,50,75],"format":"d","title":["Social Distancin","Index_MI"],"titlePadding":3,"titleLineHeight":18}},"y":{"field":"y","type":"quantitative","scale":{"domain":[-189,465],"nice":false,"zero":false},"axis":{"values":[0,200,400],"labels":false,"title":null}}}},
{"data":{"name":"f11"},"mark":{"type":"line","color":"#e8000b","strokeWidth":4},"encoding":{"x":{"field":"x","type":"quantitative"},"y":{"field":"fit","type":"quantitative"}}},
{"data":{"name":"f11"},"mark":{"type":"area","color":"#ff0000","opacity":0.15},"encoding":{"x":{"field":"x","type":"quantitative"},"y":{"field":"lo","type":"quantitative"},"y2":{"field":"hi"}}}]}
],"spacing":27,"bounds":"flush"}
],
"spacing":12,
"config":{
"view":{"stroke":null},
"font":"Liberation Sans",
"axis":{"grid":false,"domainColor":"#262626","domainWidth":1.6,"tickColor":"#262626","tickWidth":1.6,"tickSize":8,"labelFont":"Liberation Sans","labelFontSize":15,"labelColor":"#262626","titleFont":"Liberation Sans","titleFontSize":17.5,"titleFontWeight":"normal","titleColor":"#262626","titleLineHeight":18,"labelFlush":false,"labelOverlap":false},
"axisX":{"labelPadding":12,"titlePadding":6},
"axisY":{"labelPadding":16,"titlePadding":8}
}
}
